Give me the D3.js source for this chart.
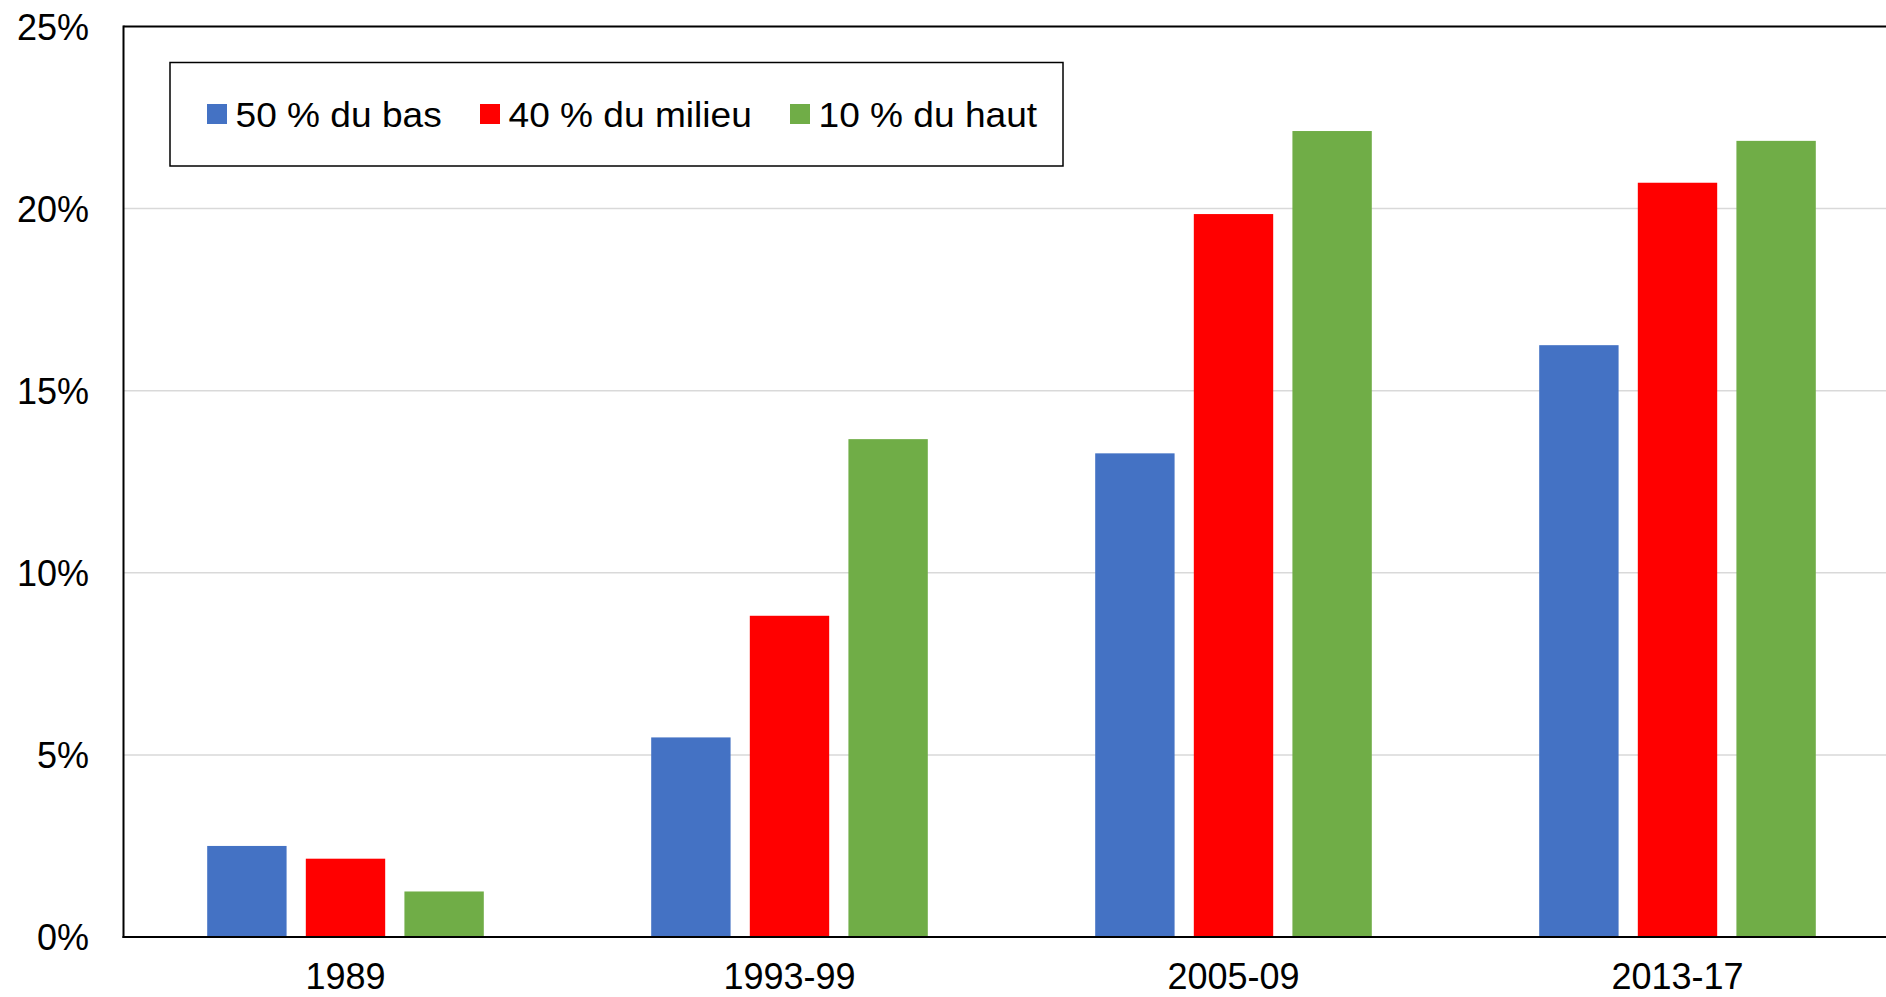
<!DOCTYPE html>
<html>
<head>
<meta charset="utf-8">
<script src="https://cdn.jsdelivr.net/npm/d3@7"></script>
<style>
  html, body { margin: 0; padding: 0; background: #fff; }
  svg { display: block; }
  text { font-family: "Liberation Sans", Arial, sans-serif; fill: #000; }
</style>
</head>
<body>
<svg id="chart" width="1886" height="997"></svg>
<script>
const categories = ["1989", "1993-99", "2005-09", "2013-17"];
const seriesNames = ["50 % du bas", "40 % du milieu", "10 % du haut"];
const seriesColors = ["#4472C4", "#FF0000", "#70AD47"];
const bas50   = [2.5, 5.48, 13.28, 16.25];
const milieu40 = [2.15, 8.82, 19.85, 20.71];
const haut10  = [1.25, 13.67, 22.13, 21.86];
const yTicks = [0, 5, 10, 15, 20, 25];

const seriesValues = [bas50, milieu40, haut10];

(function () {
const svg = d3.select("#chart");
const W = 1886;
const pLeft = 123.5, pTop = 26.5, pBottom = 937;
const bandW = 444;

const y = d3.scaleLinear().domain([0, 25]).range([pBottom, pTop]);
const x0 = d3.scaleBand().domain(categories).range([pLeft, pLeft + bandW * categories.length]).padding(0);
const outer = 83.7;
const x1 = d3.scaleBand().domain(seriesNames).range([outer, bandW - outer]).paddingInner(0.195).paddingOuter(0);

// gridlines
svg.append("g").selectAll("line").data(yTicks.filter(t => t > 0 && t < 25)).join("line")
  .attr("x1", pLeft).attr("x2", W)
  .attr("y1", d => y(d)).attr("y2", d => y(d))
  .attr("stroke", "#d9d9d9").attr("stroke-width", 1.5);

// bars
const groups = svg.append("g").selectAll("g").data(categories).join("g")
  .attr("transform", d => `translate(${x0(d)},0)`);
groups.selectAll("rect").data((c, ci) => seriesNames.map((s, si) => ({s, si, v: seriesValues[si][ci]})))
  .join("rect")
  .attr("x", d => x1(d.s))
  .attr("width", x1.bandwidth())
  .attr("y", d => y(d.v))
  .attr("height", d => y(0) - y(d.v))
  .attr("fill", d => seriesColors[d.si]);

// frame: top and left border
svg.append("line").attr("x1", pLeft).attr("x2", W).attr("y1", pTop).attr("y2", pTop)
  .attr("stroke", "#000").attr("stroke-width", 2);
svg.append("line").attr("x1", pLeft).attr("x2", pLeft).attr("y1", pTop - 1).attr("y2", pBottom + 1)
  .attr("stroke", "#000").attr("stroke-width", 2);

// x axis
const xAxis = d3.axisBottom(x0).tickSize(0).tickPadding(0);
const gx = svg.append("g").attr("transform", `translate(0,${pBottom})`).call(xAxis);
gx.select(".domain").remove();
svg.append("line").attr("x1", pLeft - 1).attr("x2", W).attr("y1", pBottom).attr("y2", pBottom)
  .attr("stroke", "#000").attr("stroke-width", 2);
gx.selectAll("text").attr("font-size", 36).attr("dy", null).attr("y", 52)
  .style("font-family", '"Liberation Sans", Arial, sans-serif').attr("fill", "#000");

// y axis
const yAxis = d3.axisLeft(y).tickValues(yTicks).tickFormat(d => d + "%").tickSize(0).tickPadding(0);
const gy = svg.append("g").attr("transform", `translate(89,0)`).call(yAxis);
gy.select(".domain").remove();
gy.selectAll("text").attr("font-size", 36).attr("x", 0).attr("dy", "0.35em")
  .style("font-family", '"Liberation Sans", Arial, sans-serif').attr("fill", "#000");

// legend
const lg = svg.append("g");
lg.append("rect").attr("x", 170).attr("y", 62.5).attr("width", 893).attr("height", 103.5)
  .attr("fill", "#fff").attr("stroke", "#000").attr("stroke-width", 1.5);
const legX = [207, 480, 790];
seriesNames.forEach((s, i) => {
  lg.append("rect").attr("x", legX[i]).attr("y", 104).attr("width", 20).attr("height", 20)
    .attr("fill", seriesColors[i]);
  lg.append("g").attr("transform", `translate(${legX[i] + 28.5},126.5) scale(1.045,1)`)
    .append("text").attr("x", 0).attr("y", 0)
    .attr("font-size", 35.5).text(s);
});
})();
</script>
</body>
</html>
